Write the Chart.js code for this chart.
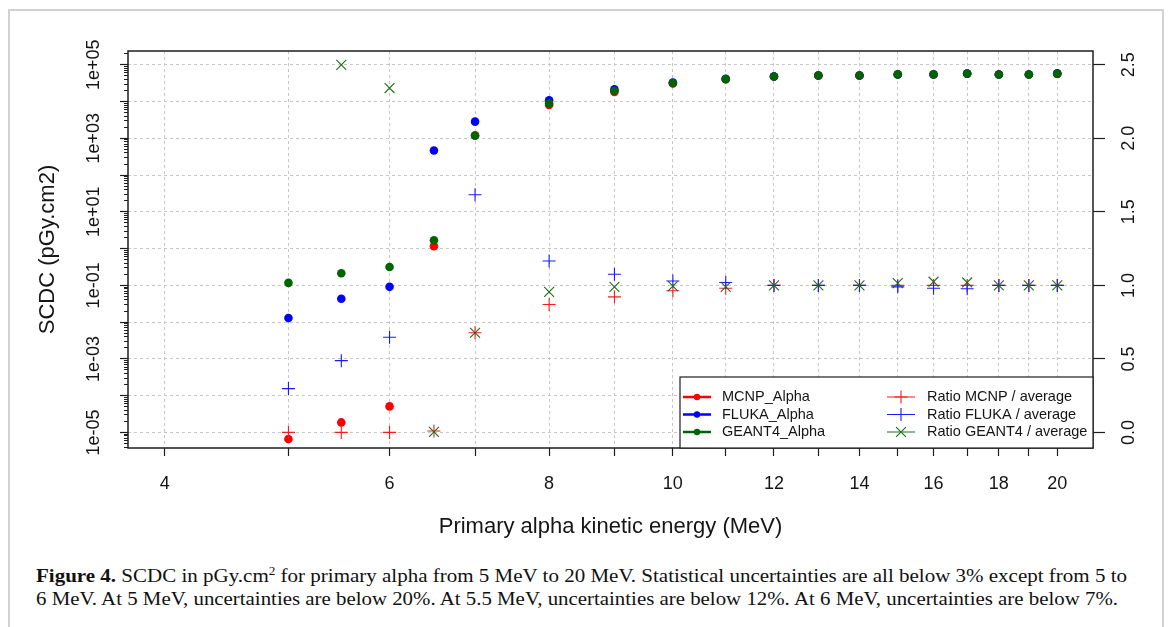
<!DOCTYPE html>
<html>
<head>
<meta charset="utf-8">
<title>SCDC alpha</title>
<script src="https://cdn.jsdelivr.net/npm/chart.js@4.4.0/dist/chart.umd.min.js"></script>
<style>
  html, body { margin: 0; padding: 0; background: #fff; }
  #fig { position: relative; width: 1171px; height: 627px; overflow: hidden; }
  #frame { position: absolute; left: 8px; top: 9px; width: 1152px; height: 700px; border: 2px solid #d2d2d2; }
  #chart { position: absolute; left: 0; top: 0; }
  #caption { position: absolute; left: 36px; top: 564px; font-family: "Liberation Serif", "Times New Roman", serif; font-size: 19px; line-height: 23px; color: #111; white-space: nowrap; }
  #caption .line { display: inline-block; transform-origin: 0 50%; }
  #caption sup { font-size: 12px; line-height: 0; vertical-align: 0; position: relative; top: -7px; }
</style>
</head>
<body>
<div id="fig">
  <div id="frame"></div>
  <canvas id="chart" width="1171" height="545"></canvas>
  <div id="caption">
    <span class="line" data-width="1091"><b>Figure 4.</b> SCDC in pGy.cm<sup>2</sup> for primary alpha from 5 MeV to 20 MeV. Statistical uncertainties are all below 3% except from 5 to</span><br>
    <span class="line" data-width="1082">6 MeV. At 5 MeV, uncertainties are below 20%. At 5.5 MeV, uncertainties are below 12%. At 6 MeV, uncertainties are below 7%.</span>
  </div>
</div>
<script>
// data
const energies = [5, 5.5, 6, 6.5, 7, 8, 9, 10, 11, 12, 13, 14, 15, 16, 17, 18, 19, 20];

const mcnpAlpha   = [6.6e-6, 1.87e-5, 5.1e-5, 1.16, 1200, 8100, 18350, 30900, 40500, 48200, 51300, 51300, 54600, 54600, 57000, 54600, 54600, 56500];
const flukaAlpha  = [0.0129, 0.0432, 0.0912, 464, 2840, 10800, 21400, 33000, 41500, 48200, 51300, 51300, 54600, 54600, 57500, 54600, 54600, 58500];
const geant4Alpha = [0.117, 0.214, 0.317, 1.69, 1170, 8900, 19700, 31900, 40700, 48200, 51300, 51300, 55000, 55000, 58200, 54600, 54600, 57000];

const ratioMcnp   = [0.0, 0.0, 0.0, 0.01, 0.678, 0.870, 0.922, 0.963, 0.98, 1.0, 1.0, 1.0, 1.0, 1.0, 1.0, 1.0, 1.0, 1.0];
const ratioFluka  = [0.298, 0.488, 0.647, null, 1.616, 1.166, 1.076, 1.03, 1.02, 1.0, 1.0, 1.0, 0.99, 0.98, 0.977, 1.0, 1.0, 1.0];
const ratioGeant4 = [null, 2.50, 2.342, 0.004, 0.678, 0.956, 0.99, 0.995, 0.99, 1.0, 1.0, 1.0, 1.015, 1.025, 1.02, 1.0, 1.0, 1.0];

// axis ticks
const xGridTicks = [4, 5, 6, 7, 8, 9, 10, 11, 12, 13, 14, 15, 16, 17, 18, 19, 20];
const xLabelTicks = [4, 6, 8, 10, 12, 14, 16, 18, 20];
const yDecades = [-5, -4, -3, -2, -1, 0, 1, 2, 3, 4, 5];
const yLabelDecades = [-5, -3, -1, 1, 3, 5];
const ratioTicks = [0, 0.5, 1, 1.5, 2, 2.5];

const FONT = '"Liberation Sans", Arial, sans-serif';
const TEXT = '#151515';
const GRID = '#c6c6c6';

const xMin = 3.744, xMax = 21.33;
const yMin = Math.pow(10, -5.424), yMax = Math.pow(10, 5.375);
const rMin = -0.106, rMax = 2.594;

function points(values) {
    return energies.map((e, i) => ({ x: e, y: values[i] }));
}

function sciLabel(v) {
    const e = Math.round(Math.log10(v));
    if (Math.abs(v - Math.pow(10, e)) > Math.pow(10, e) * 1e-6) return '';
    if (!yLabelDecades.includes(e)) return '';
    return '1e' + (e < 0 ? '-' : '+') + String(Math.abs(e)).padStart(2, '0');
}

// minor log ticks 2..9 x 10^k inside the axis range
const yMinorTicks = [];
for (let k = -6; k <= 5; k++) {
    for (let m = 2; m <= 9; m++) {
        const v = m * Math.pow(10, k);
        if (v > yMin && v < yMax) yMinorTicks.push(v);
    }
}

// box round the plot region
const frame = {
    id: 'frame',
    afterDatasetsDraw(chart) {
        const a = chart.chartArea;
        const ctx = chart.ctx;
        ctx.save();
        ctx.strokeStyle = '#1e1e1e';
        ctx.lineWidth = 1.5;
        ctx.strokeRect(a.left, a.top, a.right - a.left, a.bottom - a.top);
        ctx.restore();
    }
};

function drawMarker(ctx, ds, x, y) {
    const r = ds.pointRadius;
    ctx.strokeStyle = ds.borderColor;
    ctx.fillStyle = ds.backgroundColor;
    ctx.lineWidth = ds.borderWidth || 1;
    ctx.beginPath();
    if (ds.pointStyle === 'circle') {
        ctx.arc(x, y, r - 0.6, 0, Math.PI * 2);
        ctx.fill();
        return;
    }
    if (ds.pointStyle === 'cross') {
        ctx.moveTo(x - r, y); ctx.lineTo(x + r, y);
        ctx.moveTo(x, y - r); ctx.lineTo(x, y + r);
    } else {
        const d = r * 0.7071;
        ctx.moveTo(x - d, y - d); ctx.lineTo(x + d, y + d);
        ctx.moveTo(x - d, y + d); ctx.lineTo(x + d, y - d);
    }
    ctx.stroke();
}

// legend in the lower right corner of the plot
const legendBox = {
    id: 'legendBox',
    afterDatasetsDraw(chart) {
        const a = chart.chartArea;
        const ctx = chart.ctx;
        const w = 413, h = 71;
        const left = a.right - w, top = a.bottom - h;
        ctx.save();
        ctx.fillStyle = '#fff';
        ctx.fillRect(left, top, w, h);
        ctx.strokeStyle = '#1e1e1e';
        ctx.lineWidth = 1.2;
        ctx.strokeRect(left, top, w, h);

        ctx.font = '14.5px ' + FONT;
        ctx.textBaseline = 'middle';
        ctx.fillStyle = TEXT;
        const sets = chart.data.datasets;
        sets.forEach(function (ds, i) {
            const col = i < 3 ? 0 : 1;
            const row = i % 3;
            const y = top + 20 + row * 17.5;
            const x0 = left + (col ? 207 : 3);
            ctx.strokeStyle = ds.borderColor;
            ctx.lineWidth = col ? 1 : 2.5;
            ctx.beginPath();
            ctx.moveTo(x0, y);
            ctx.lineTo(x0 + 28, y);
            ctx.stroke();
            if (col) {
                drawMarker(ctx, ds, x0 + 14, y);
            } else {
                ctx.fillStyle = ds.backgroundColor;
                ctx.beginPath();
                ctx.arc(x0 + 14, y, 3.2, 0, Math.PI * 2);
                ctx.fill();
            }
            ctx.fillStyle = TEXT;
            ctx.fillText(ds.label, x0 + (col ? 40 : 39), y);
        });
        ctx.restore();
    }
};

const dotStyle = (color) => ({
    pointStyle: 'circle', pointRadius: 4.3, backgroundColor: color, borderColor: color, borderWidth: 0
});
const markStyle = (color, shape, r) => ({
    pointStyle: shape, pointRadius: r, backgroundColor: color, borderColor: color, borderWidth: 1.1
});

new Chart(document.getElementById('chart'), {
    type: 'scatter',
    data: {
        datasets: [
            Object.assign({ label: 'MCNP_Alpha', data: points(mcnpAlpha), yAxisID: 'y', order: 5 }, dotStyle('#ff0000')),
            Object.assign({ label: 'FLUKA_Alpha', data: points(flukaAlpha), yAxisID: 'y', order: 4 }, dotStyle('#0000ff')),
            Object.assign({ label: 'GEANT4_Alpha', data: points(geant4Alpha), yAxisID: 'y', order: 3 }, dotStyle('#006400')),
            Object.assign({ label: 'Ratio MCNP / average', data: points(ratioMcnp), yAxisID: 'y1', order: 2 }, markStyle('#ff1a1a', 'cross', 6.5)),
            Object.assign({ label: 'Ratio FLUKA / average', data: points(ratioFluka), yAxisID: 'y1', order: 1 }, markStyle('#1a1aff', 'cross', 6.5)),
            Object.assign({ label: 'Ratio GEANT4 / average', data: points(ratioGeant4), yAxisID: 'y1', order: 0 }, markStyle('#1c6e1c', 'crossRot', 7))
        ]
    },
    options: {
        responsive: false,
        animation: false,
        events: [],
        layout: { padding: { top: 51, left: 0, right: 0, bottom: 0 } },
        plugins: { legend: { display: false }, tooltip: { enabled: false } },
        scales: {
            x: {
                type: 'logarithmic',
                min: xMin,
                max: xMax,
                afterBuildTicks: (s) => { s.ticks = xGridTicks.map(v => ({ value: v })); },
                afterFit: (s) => { s.height = 97; },
                ticks: {
                    autoSkip: false, maxRotation: 0, minRotation: 0, padding: 17,
                    color: TEXT, font: { family: FONT, size: 18 },
                    callback: (v) => xLabelTicks.includes(v) ? String(v) : ''
                },
                grid: { color: GRID, lineWidth: 1, tickLength: 8, tickColor: '#1e1e1e', tickWidth: 1.2 },
                border: { display: false, dash: [3, 3] },
                title: {
                    display: true, text: 'Primary alpha kinetic energy (MeV)', color: TEXT,
                    font: { family: FONT, size: 22 }, padding: { top: 0, bottom: 5 }
                }
            },
            y: {
                type: 'logarithmic',
                position: 'left',
                weight: 1,
                min: yMin,
                max: yMax,
                afterBuildTicks: (s) => { s.ticks = yDecades.map(e => ({ value: Math.pow(10, e) })); },
                afterFit: (s) => { s.width = 128; },
                ticks: {
                    autoSkip: false, minRotation: 90, maxRotation: 90, crossAlign: 'center', padding: 1,
                    color: TEXT, font: { family: FONT, size: 18 },
                    callback: (v) => sciLabel(v)
                },
                grid: { color: GRID, lineWidth: 1, tickLength: 8, tickColor: '#1e1e1e', tickWidth: 1.2 },
                border: { display: false, dash: [3, 3] },
                title: {
                    display: true, text: 'SCDC (pGy.cm2)', color: TEXT,
                    font: { family: FONT, size: 22 }, padding: { top: 35, bottom: 0 }
                }
            },
            yMinor: {
                type: 'logarithmic',
                position: 'left',
                weight: 0,
                min: yMin,
                max: yMax,
                afterBuildTicks: (s) => { s.ticks = yMinorTicks.map(v => ({ value: v })); },
                afterFit: (s) => { s.width = 0; },
                ticks: { display: false },
                grid: { drawOnChartArea: false, tickLength: 4, tickColor: '#1e1e1e', tickWidth: 1 },
                border: { display: false }
            },
            y1: {
                type: 'linear',
                position: 'right',
                min: rMin,
                max: rMax,
                afterBuildTicks: (s) => { s.ticks = ratioTicks.map(v => ({ value: v })); },
                afterFit: (s) => { s.width = 78; },
                ticks: {
                    autoSkip: false, minRotation: 90, maxRotation: 90, crossAlign: 'center', padding: 12,
                    color: TEXT, font: { family: FONT, size: 18 },
                    callback: (v) => Number(v).toFixed(1)
                },
                grid: { drawOnChartArea: false, tickLength: 12, tickColor: '#1e1e1e', tickWidth: 1.2 },
                border: { display: false }
            }
        }
    },
    plugins: [frame, legendBox]
});

// stretch caption lines to the width they have in the figure
document.querySelectorAll('#caption .line').forEach(function (line) {
    const target = Number(line.dataset.width);
    const w = line.getBoundingClientRect().width;
    line.style.transform = 'scaleX(' + (target / w).toFixed(4) + ')';
});
</script>
</body>
</html>
